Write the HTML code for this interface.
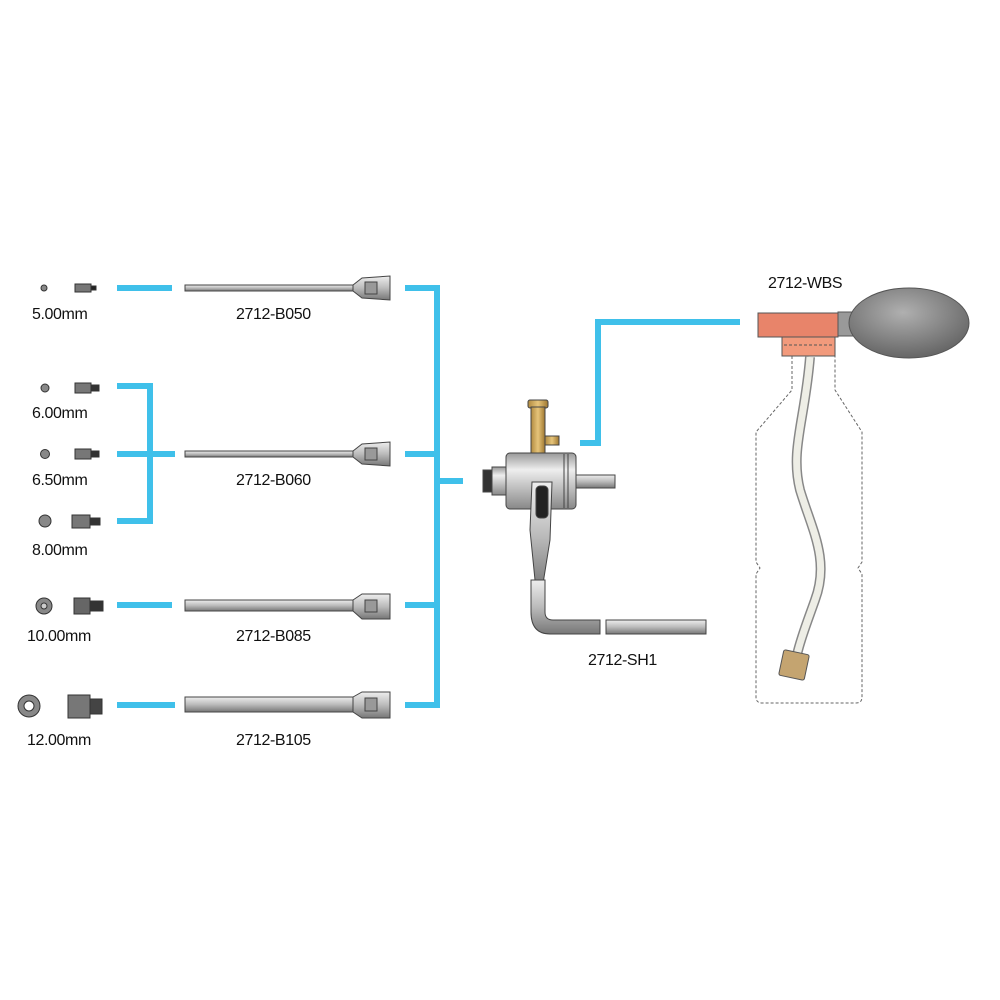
<!DOCTYPE html>
<html><head><style>
html,body{margin:0;padding:0;background:#fff;}
svg{display:block;}
text{font-family:"Liberation Sans",sans-serif;font-size:16px;letter-spacing:-0.4px;fill:#111;}
</style></head><body>
<svg width="1000" height="1000" viewBox="0 0 1000 1000">
<defs>
<linearGradient id="rod" x1="0" y1="0" x2="0" y2="1"><stop offset="0" stop-color="#eee"/><stop offset="0.5" stop-color="#bbb"/><stop offset="1" stop-color="#777"/></linearGradient>
<linearGradient id="cyl" x1="0" y1="0" x2="0" y2="1"><stop offset="0" stop-color="#999"/><stop offset="0.3" stop-color="#eee"/><stop offset="1" stop-color="#888"/></linearGradient>
<linearGradient id="brass" x1="0" y1="0" x2="1" y2="0"><stop offset="0" stop-color="#b08a40"/><stop offset="0.5" stop-color="#e6c47a"/><stop offset="1" stop-color="#a07830"/></linearGradient>
<radialGradient id="bulb" cx="0.45" cy="0.35" r="0.7"><stop offset="0" stop-color="#b0b0b0"/><stop offset="1" stop-color="#606060"/></radialGradient>
</defs>
<g stroke="#3fc0ea" stroke-width="6" fill="none">
<line x1="117" y1="288" x2="172" y2="288"/>
<polyline points="117,386 150,386 150,521 117,521"/>
<line x1="117" y1="454" x2="175" y2="454"/>
<line x1="117" y1="605" x2="172" y2="605"/>
<line x1="117" y1="705" x2="175" y2="705"/>
<line x1="405" y1="288" x2="440" y2="288"/>
<line x1="405" y1="454" x2="440" y2="454"/>
<line x1="405" y1="605" x2="440" y2="605"/>
<line x1="405" y1="705" x2="440" y2="705"/>
<line x1="437" y1="285" x2="437" y2="708"/>
<line x1="437" y1="481" x2="463" y2="481"/>
<polyline points="580,443 598,443 598,322 740,322"/>
</g>
<g stroke="#444" stroke-width="1">
<rect x="185" y="285" width="170" height="6" fill="url(#rod)"/>
<path d="M353,285 L362,278 L390,276 L390,300 L362,298 L353,291Z" fill="url(#rod)"/>
<rect x="365" y="282" width="12" height="12" fill="#999"/>
<rect x="185" y="451" width="170" height="6" fill="url(#rod)"/>
<path d="M353,451 L362,444 L390,442 L390,466 L362,464 L353,457Z" fill="url(#rod)"/>
<rect x="365" y="448" width="12" height="12" fill="#999"/>
<rect x="185" y="600" width="170" height="11" fill="url(#rod)"/>
<path d="M353,600 L362,594 L390,594 L390,619 L362,619 L353,611Z" fill="url(#rod)"/>
<rect x="365" y="600" width="12" height="12" fill="#999"/>
<rect x="185" y="697" width="170" height="15" fill="url(#rod)"/>
<path d="M353,697 L362,692 L390,692 L390,718 L362,718 L353,712Z" fill="url(#rod)"/>
<rect x="365" y="698" width="12" height="13" fill="#999"/>
</g>
<g stroke="#333" stroke-width="1" fill="#888">
<circle cx="44" cy="288" r="3"/><rect x="75" y="284" width="16" height="8" fill="#777"/><rect x="91" y="286" width="5" height="4" fill="#222"/>
<circle cx="45" cy="388" r="4"/><rect x="75" y="383" width="16" height="10" fill="#777"/><rect x="91" y="385" width="8" height="6" fill="#333"/>
<circle cx="45" cy="454" r="4.5"/><rect x="75" y="449" width="16" height="10" fill="#777"/><rect x="91" y="451" width="8" height="6" fill="#333"/>
<circle cx="45" cy="521" r="6"/><rect x="72" y="515" width="18" height="13" fill="#777"/><rect x="90" y="518" width="10" height="7" fill="#333"/>
<circle cx="44" cy="606" r="8"/><circle cx="44" cy="606" r="3" fill="#ccc"/><rect x="74" y="598" width="16" height="16" fill="#666"/><rect x="90" y="601" width="13" height="10" fill="#333"/>
<circle cx="29" cy="706" r="11"/><circle cx="29" cy="706" r="5" fill="#fff"/><rect x="68" y="695" width="22" height="23" fill="#777"/><rect x="90" y="699" width="12" height="15" fill="#444"/>
</g>
<g>
<text x="32" y="319">5.00mm</text>
<text x="32" y="418">6.00mm</text>
<text x="32" y="485">6.50mm</text>
<text x="32" y="555">8.00mm</text>
<text x="27" y="641">10.00mm</text>
<text x="27" y="745">12.00mm</text>
<text x="236" y="319">2712-B050</text>
<text x="236" y="485">2712-B060</text>
<text x="236" y="641">2712-B085</text>
<text x="236" y="745">2712-B105</text>
<text x="588" y="665">2712-SH1</text>
<text x="768" y="288">2712-WBS</text>
</g>
<g stroke="#444" stroke-width="1">
<rect x="528" y="400" width="20" height="8" rx="2" fill="url(#brass)"/>
<rect x="531" y="407" width="14" height="46" fill="url(#brass)"/>
<rect x="545" y="436" width="14" height="9" fill="url(#brass)"/>
<rect x="483" y="470" width="10" height="22" fill="#333"/>
<rect x="492" y="467" width="16" height="28" fill="url(#cyl)"/>
<rect x="575" y="475" width="40" height="13" fill="url(#rod)"/>
<rect x="506" y="453" width="70" height="56" rx="4" fill="url(#cyl)"/>
<line x1="564" y1="454" x2="564" y2="508"/><line x1="568" y1="454" x2="568" y2="508"/>
<path d="M532,482 L552,482 L550,540 L542,590 L536,590 L530,530Z" fill="url(#rod)"/>
<rect x="536" y="486" width="12" height="32" rx="4" fill="#222"/>
<path d="M531,580 L545,580 L545,612 Q545,620 553,620 L600,620 L600,634 L550,634 Q531,634 531,612Z" fill="url(#rod)"/>
<rect x="606" y="620" width="100" height="14" fill="url(#rod)"/>
</g>
<path d="M792,356 L792,390 L756,432 L756,562 L760,568 L756,574 L756,697 Q756,703 762,703 L856,703 Q862,703 862,697 L862,574 L858,568 L862,562 L862,432 L835,390 L835,356" fill="none" stroke="#666" stroke-width="1" stroke-dasharray="3,2"/>
<path d="M810,357 C805,420 790,450 800,490 C812,530 830,560 815,600 C808,620 800,640 797,655" fill="none" stroke="#888" stroke-width="10"/>
<path d="M810,357 C805,420 790,450 800,490 C812,530 830,560 815,600 C808,620 800,640 797,655" fill="none" stroke="#eeeee6" stroke-width="7"/>
<rect x="781" y="652" width="26" height="26" rx="2" fill="#c4a470" stroke="#555" transform="rotate(12 794 665)"/>
<g stroke="#555" stroke-width="1">
<rect x="838" y="312" width="18" height="24" fill="#999"/>
<ellipse cx="909" cy="323" rx="60" ry="35" fill="url(#bulb)"/>
<rect x="758" y="313" width="80" height="24" fill="#e8846a"/>
<rect x="782" y="337" width="53" height="19" fill="#f29a7c"/>
<line x1="784" y1="345" x2="833" y2="345" stroke-dasharray="3,2"/>
</g>
</svg>
</body></html>
